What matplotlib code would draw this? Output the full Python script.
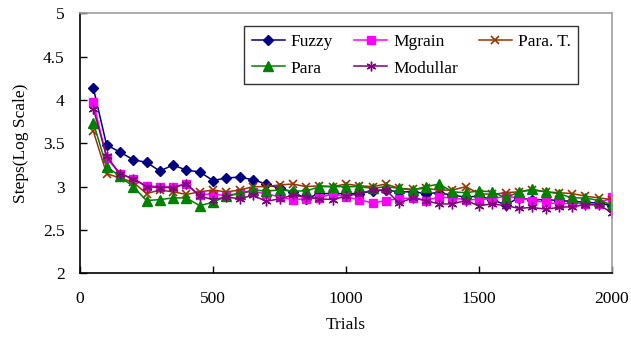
import matplotlib
matplotlib.use("Agg")
import matplotlib.pyplot as plt

plt.rcParams['font.family'] = ['Liberation Serif', 'DejaVu Serif']

trials = [50, 100, 150, 200, 250, 300, 350, 400, 450, 500,
          550, 600, 650, 700, 750, 800, 850, 900, 950, 1000,
          1050, 1100, 1150, 1200, 1250, 1300, 1350, 1400, 1450, 1500,
          1550, 1600, 1650, 1700, 1750, 1800, 1850, 1900, 1950, 2000]

fuzzy = [4.14, 3.48, 3.40, 3.31, 3.28, 3.18, 3.25, 3.19, 3.17, 3.07,
         3.10, 3.11, 3.08, 3.03, 2.98, 2.94, 2.86, 2.92, 2.92, 2.92,
         2.92, 2.95, 2.96, 2.94, 2.94, 2.92, 2.93, 2.90, 2.88, 2.89,
         2.85, 2.79, 2.87, 2.85, 2.85, 2.84, 2.83, 2.82, 2.81, 2.78]

mgrain = [3.98, 3.33, 3.15, 3.09, 3.01, 3.00, 3.00, 3.03, 2.90, 2.92,
          2.89, 2.93, 2.94, 2.92, 2.88, 2.85, 2.86, 2.87, 2.92, 2.88,
          2.85, 2.81, 2.84, 2.86, 2.87, 2.84, 2.88, 2.87, 2.85, 2.85,
          2.86, 2.89, 2.87, 2.84, 2.82, 2.80, 2.81, 2.80, 2.80, 2.88]

para_t = [3.64, 3.15, 3.10, 3.05, 2.92, 2.96, 2.94, 2.91, 2.94, 2.96,
          2.94, 2.96, 3.00, 3.00, 3.02, 3.03, 3.00, 3.01, 3.00, 3.03,
          3.01, 3.00, 3.03, 2.98, 2.97, 2.98, 2.96, 2.96, 3.00, 2.92,
          2.91, 2.93, 2.94, 2.96, 2.94, 2.93, 2.92, 2.89, 2.87, 2.85]

para = [3.74, 3.23, 3.12, 3.00, 2.84, 2.85, 2.87, 2.87, 2.78, 2.82,
        2.89, 2.92, 2.96, 2.95, 2.96, 2.95, 2.95, 3.00, 3.00, 3.00,
        3.00, 2.98, 3.00, 2.98, 2.96, 3.00, 3.03, 2.94, 2.93, 2.95,
        2.94, 2.87, 2.94, 2.97, 2.94, 2.92, 2.87, 2.87, 2.84, 2.79]

modullar = [3.90, 3.35, 3.15, 3.09, 3.00, 2.99, 2.99, 3.03, 2.89, 2.85,
            2.88, 2.86, 2.90, 2.83, 2.86, 2.90, 2.88, 2.86, 2.85, 2.89,
            2.92, 2.96, 2.96, 2.81, 2.87, 2.84, 2.80, 2.80, 2.84, 2.78,
            2.80, 2.78, 2.75, 2.76, 2.74, 2.76, 2.77, 2.79, 2.79, 2.70]

fig = plt.figure(figsize=(6.31, 3.49), dpi=100)
ax = fig.add_axes([80 / 631, 1 - 273.3 / 349, 532 / 631, 260 / 349])

ax.plot(trials, fuzzy, color='#000080', marker='D', markersize=5.5, lw=1.1, label='Fuzzy')
ax.plot(trials, mgrain, color='#FF00FF', marker='s', markersize=6, lw=1.1, label='Mgrain')
ax.plot(trials, para_t, color='#993300', marker='x', markersize=6, mew=1.2, lw=1.1, label='Para. T.')
ax.plot(trials, para, color='#008000', marker='^', markersize=7, lw=1.1, label='Para')
ax.plot(trials, modullar, color='#800080', marker=(6, 2, 0), markersize=7, mew=1.0, lw=1.1, label='Modullar')

ax.set_xlim(0, 2000)
ax.set_ylim(2, 5)
ax.set_xticks([0, 500, 1000, 1500, 2000])
ax.set_yticks([2, 2.5, 3, 3.5, 4, 4.5, 5])
ax.set_yticklabels(['2', '2.5', '3', '3.5', '4', '4.5', '5'])

ax.spines['left'].set_color('black')
ax.spines['bottom'].set_color('black')
ax.spines['top'].set_color('#A0A0A0')
ax.spines['right'].set_color('#A0A0A0')
for s in ax.spines.values():
    s.set_linewidth(1.2)

ax.tick_params(axis='y', direction='in', length=5, width=1, pad=11, labelsize=12.5)
ax.tick_params(axis='x', direction='in', length=5, width=1, pad=13, labelsize=12.5)

ax.set_xlabel('Trials', fontsize=12.5, labelpad=7)
ax.set_ylabel('Steps(Log Scale)', fontsize=12.5, labelpad=10)

# legend order gives Fuzzy/Mgrain/Para. T. on the first row
h, l = ax.get_legend_handles_labels()
order = [0, 3, 1, 4, 2]
leg = ax.legend([h[i] for i in order], [l[i] for i in order], ncol=3,
                loc='upper left', bbox_to_anchor=((244 - 80) / 532, (273.3 - 26) / 260),
                borderaxespad=0, fontsize=12.5, frameon=True, fancybox=False,
                edgecolor='black', handlelength=1.9, columnspacing=1.2,
                handletextpad=0.35, labelspacing=0.6, borderpad=0.45)
leg.get_frame().set_linewidth(1.0)

fig.savefig('out.png', dpi=100)
